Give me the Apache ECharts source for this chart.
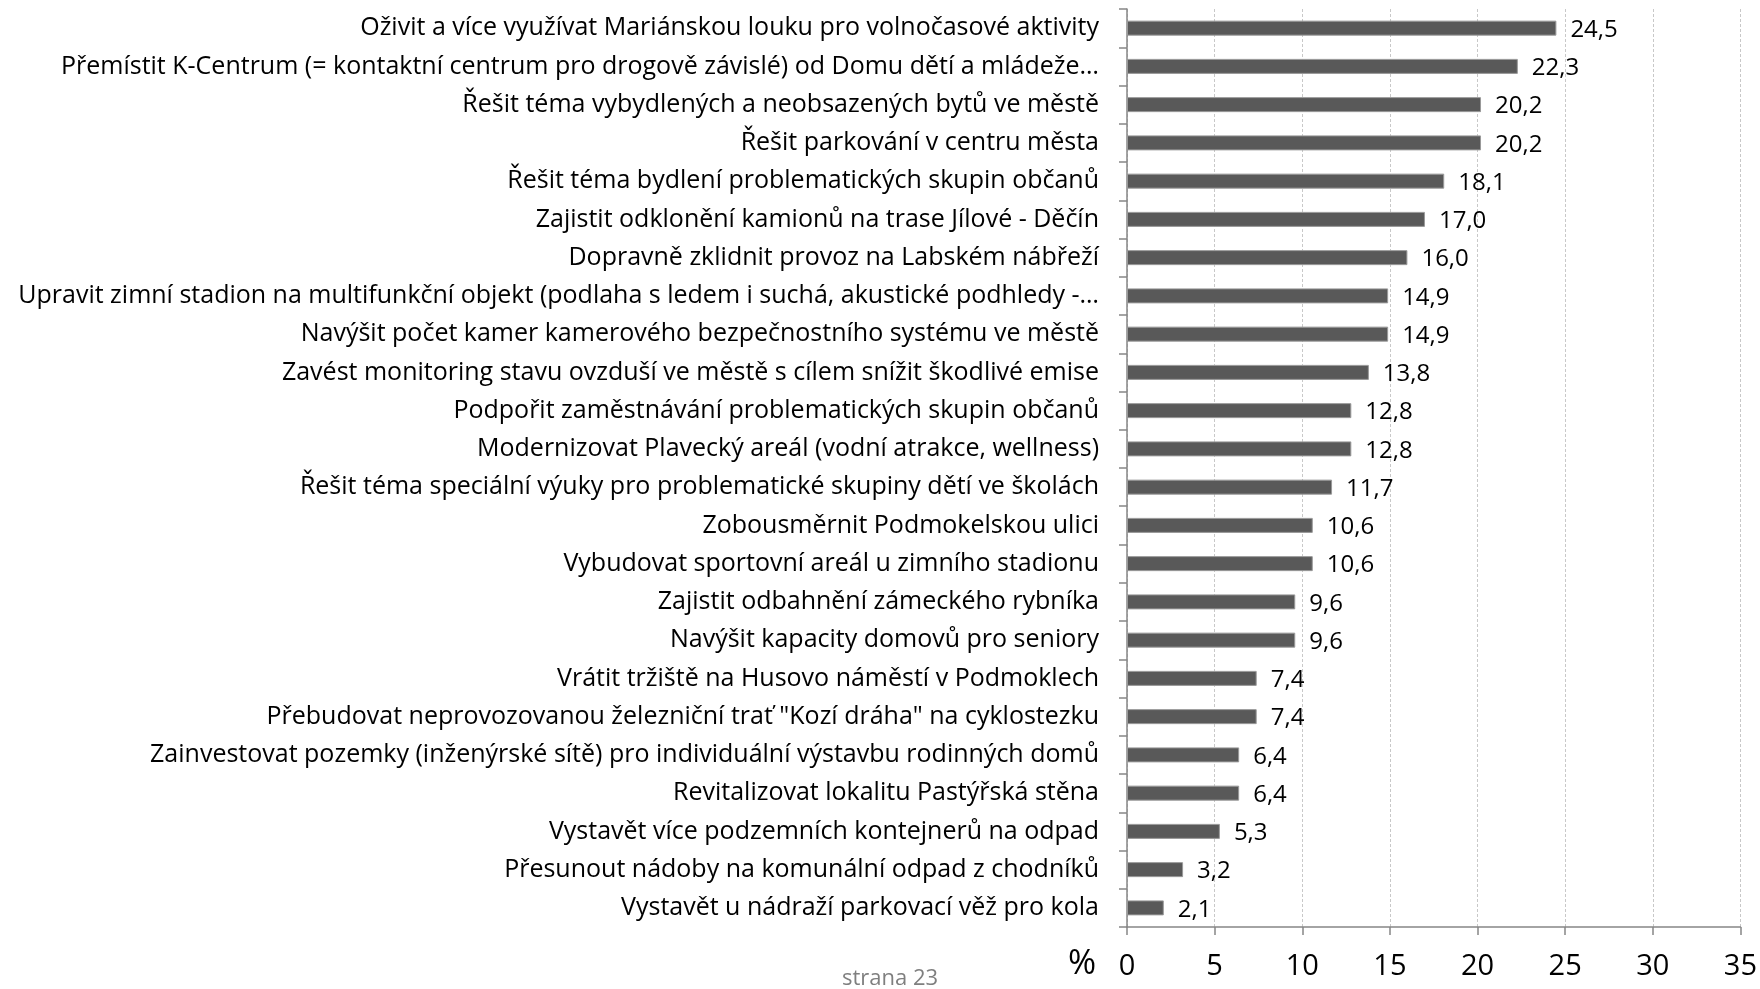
<!DOCTYPE html>
<html>
<head>
<meta charset="utf-8">
<script src="https://cdn.jsdelivr.net/npm/echarts@6/dist/echarts.min.js"></script>
<style>
html, body { margin: 0; padding: 0; background: #fff; }
#chart { width: 1760px; height: 989px; }
</style>
</head>
<body>
<div id="chart"></div>
<script>
const categories = [
  "Oživit a více využívat Mariánskou louku pro volnočasové aktivity",
  "Přemístit K-Centrum (= kontaktní centrum pro drogově závislé) od Domu dětí a mládeže…",
  "Řešit téma vybydlených a neobsazených bytů ve městě",
  "Řešit parkování v centru města",
  "Řešit téma bydlení problematických skupin občanů",
  "Zajistit odklonění kamionů na trase Jílové - Děčín",
  "Dopravně zklidnit provoz na Labském nábřeží",
  "Upravit zimní stadion na multifunkční objekt (podlaha s ledem i suchá, akustické podhledy -…",
  "Navýšit počet kamer kamerového bezpečnostního systému ve městě",
  "Zavést monitoring stavu ovzduší ve městě s cílem snížit škodlivé emise",
  "Podpořit zaměstnávání problematických skupin občanů",
  "Modernizovat Plavecký areál (vodní atrakce, wellness)",
  "Řešit téma speciální výuky pro problematické skupiny dětí ve školách",
  "Zobousměrnit Podmokelskou ulici",
  "Vybudovat sportovní areál u zimního stadionu",
  "Zajistit odbahnění zámeckého rybníka",
  "Navýšit kapacity domovů pro seniory",
  "Vrátit tržiště na Husovo náměstí v Podmoklech",
  "Přebudovat neprovozovanou železniční trať \"Kozí dráha\" na cyklostezku",
  "Zainvestovat pozemky (inženýrské sítě) pro individuální výstavbu rodinných domů",
  "Revitalizovat lokalitu Pastýřská stěna",
  "Vystavět více podzemních kontejnerů na odpad",
  "Přesunout nádoby na komunální odpad z chodníků",
  "Vystavět u nádraží parkovací věž pro kola"
];
const values = [24.5, 22.3, 20.2, 20.2, 18.1, 17.0, 16.0, 14.9, 14.9, 13.8, 12.8, 12.8,
  11.7, 10.6, 10.6, 9.6, 9.6, 7.4, 7.4, 6.4, 6.4, 5.3, 3.2, 2.1];

const font = "Open Sans";
let myChart = echarts.init(document.getElementById("chart"));
myChart.setOption({
  animation: false,
  grid: { left: 1127, right: 17, top: 9, bottom: 62, containLabel: false },
  graphic: [
    { type: "text", left: 1068, top: 947, style: { text: "%", font: "34px " + font, fill: "#000" } },
    { type: "text", left: 842, top: 968, style: { text: "strana 23", font: "22px " + font, fill: "#7f7f7f" } }
  ],
  xAxis: {
    type: "value",
    min: 0, max: 35, interval: 5,
    axisLine: { show: true, lineStyle: { color: "#868686", width: 1.5 } },
    axisTick: { show: true, length: 8, lineStyle: { color: "#868686", width: 1.5 } },
    axisLabel: { fontFamily: font, fontSize: 29, color: "#000", margin: 25 },
    splitLine: { show: true, lineStyle: { color: "#c8c8c8", type: [3, 2], width: 1 } }
  },
  yAxis: {
    type: "category",
    inverse: true,
    data: categories,
    axisLine: { show: true, lineStyle: { color: "#868686", width: 1.5 } },
    axisTick: { show: true, length: 8, lineStyle: { color: "#868686", width: 1.5 } },
    axisLabel: { fontFamily: font, fontSize: 25, color: "#000", margin: 28 }
  },
  series: [{
    type: "bar",
    data: values,
    barWidth: 15,
    itemStyle: { color: "#595959", borderColor: "#9a9a9a", borderWidth: 1 },
    label: {
      show: true,
      position: "right",
      distance: 14,
      offset: [0, 2],
      fontFamily: font,
      fontSize: 24,
      color: "#000",
      formatter: p => p.value.toFixed(1).replace(".", ",")
    }
  }]
});
</script>
</body>
</html>
